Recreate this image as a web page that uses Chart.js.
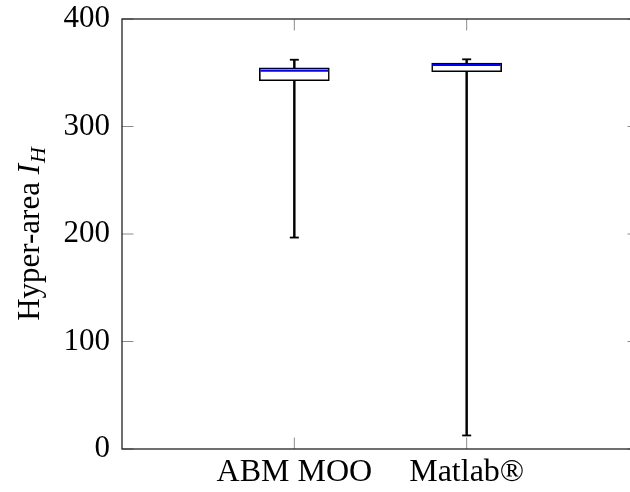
<!DOCTYPE html>
<html>
<head>
<meta charset="utf-8">
<script src="https://cdn.jsdelivr.net/npm/chart.js@4"></script>
<style>
  html, body { margin: 0; padding: 0; background: #fff; overflow: hidden; }
  #wrap { width: 650px; height: 492px; position: relative; }
</style>
</head>
<body>
<div id="wrap"><canvas id="myChart"></canvas></div>
<script>
// box plot values
const categories = ["ABM MOO", "Matlab®"];
const positions = [1, 2];
const whiskerLow = [196.7, 12.6];
const q1 = [342.6, 350.9];
const median = [351.9, 357.2];
const q3 = [354.6, 359.0];
const whiskerHigh = [362.1, 362.5];
const yTicks = [0, 100, 200, 300, 400];

const FONT = "'Liberation Serif', 'Times New Roman', serif";

Chart.defaults.color = '#000';
Chart.defaults.font.family = FONT;
Chart.defaults.font.size = 31;

// frame + inward tick marks (pgfplots style) and the y title with I_H
const framePlugin = {
    id: 'frame',
    beforeDatasetsDraw(chart) {
        const {ctx, chartArea: a, scales} = chart;
        const tl = 11.5;
        ctx.save();
        ctx.strokeStyle = '#8c8c8c';
        ctx.lineWidth = 1;
        scales.y.ticks.forEach(t => {
            const y = scales.y.getPixelForValue(t.value);
            ctx.beginPath();
            ctx.moveTo(a.left, y); ctx.lineTo(a.left + tl, y);
            ctx.moveTo(a.right, y); ctx.lineTo(a.right - tl, y);
            ctx.stroke();
        });
        scales.x.ticks.forEach(t => {
            const x = scales.x.getPixelForValue(t.value);
            ctx.beginPath();
            ctx.moveTo(x, a.bottom); ctx.lineTo(x, a.bottom - tl);
            ctx.moveTo(x, a.top); ctx.lineTo(x, a.top + tl);
            ctx.stroke();
        });
        ctx.strokeStyle = '#222';
        ctx.lineWidth = 1.3;
        ctx.strokeRect(a.left, a.top, a.right - a.left, a.bottom - a.top);
        ctx.restore();
    },
    afterDraw(chart) {
        const {ctx, chartArea: a} = chart;
        const main = "Hyper-area ";
        ctx.save();
        ctx.fillStyle = '#000';
        ctx.textBaseline = 'alphabetic';
        ctx.font = `31px ${FONT}`;
        const w1 = ctx.measureText(main).width;
        ctx.font = `italic 31px ${FONT}`;
        const w2 = ctx.measureText("I").width;
        ctx.font = `italic 22px ${FONT}`;
        const w3 = ctx.measureText("H").width;
        const total = w1 + w2 + 1 + w3;
        ctx.translate(39, (a.top + a.bottom) / 2);
        ctx.rotate(-Math.PI / 2);
        let x = -total / 2;
        ctx.font = `31px ${FONT}`;
        ctx.fillText(main, x, 0);
        x += w1;
        ctx.font = `italic 31px ${FONT}`;
        ctx.fillText("I", x, 0);
        x += w2 + 1;
        ctx.font = `italic 22px ${FONT}`;
        ctx.fillText("H", x, 6);
        ctx.restore();
    }
};

function noOverflow(scale) {
    scale.paddingTop = 0;
    scale.paddingBottom = 0;
    scale.paddingLeft = 0;
    scale.paddingRight = 0;
}

const ctx = document.getElementById('myChart');
new Chart(ctx, {
    type: 'bar',
    data: {
        datasets: [
            {
                label: 'whisker',
                data: positions.map((p, i) => ({x: p, y: [whiskerLow[i], whiskerHigh[i]]})),
                backgroundColor: '#000',
                borderWidth: 0,
                barThickness: 1.8,
                grouped: false,
                order: 4,
            },
            {
                label: 'box',
                data: positions.map((p, i) => ({x: p, y: [q1[i], q3[i]]})),
                backgroundColor: '#fff',
                borderColor: '#000',
                borderWidth: 1.6,
                borderSkipped: false,
                barThickness: 70,
                grouped: false,
                order: 3,
            },
            {
                type: 'scatter',
                label: 'caps',
                data: positions.flatMap((p, i) => [{x: p, y: whiskerLow[i]}, {x: p, y: whiskerHigh[i]}]),
                pointStyle: 'line',
                radius: 4.5,
                borderColor: '#000',
                borderWidth: 1.8,
                order: 2,
            },
            {
                type: 'scatter',
                label: 'median',
                data: positions.map((p, i) => ({x: p, y: median[i]})),
                pointStyle: 'line',
                radius: 34,
                borderColor: '#0000ff',
                borderWidth: 2.2,
                order: 1,
            },
        ]
    },
    options: {
        responsive: true,
        maintainAspectRatio: false,
        animation: false,
        layout: {autoPadding: false, padding: {left: 0, right: 11, top: 19, bottom: 0}},
        plugins: {legend: {display: false}, tooltip: {enabled: false}},
        scales: {
            x: {
                type: 'linear',
                min: 0,
                max: 3,
                offset: false,
                grid: {display: false, drawTicks: false, offset: false},
                border: {display: false},
                afterBuildTicks: scale => { scale.ticks = positions.map(v => ({value: v})); },
                afterFit: scale => { scale.height = 43; noOverflow(scale); },
                ticks: {
                    padding: 4,
                    maxRotation: 0,
                    autoSkip: false,
                    font: {size: 32},
                    callback: value => categories[positions.indexOf(value)] ?? '',
                },
            },
            y: {
                min: 0,
                max: 400,
                grid: {display: false, drawTicks: false},
                border: {display: false},
                afterBuildTicks: scale => { scale.ticks = yTicks.map(v => ({value: v})); },
                afterFit: scale => { scale.width = 122; noOverflow(scale); },
                ticks: {padding: 12},
            },
        },
    },
    plugins: [framePlugin],
});
</script>
</body>
</html>
